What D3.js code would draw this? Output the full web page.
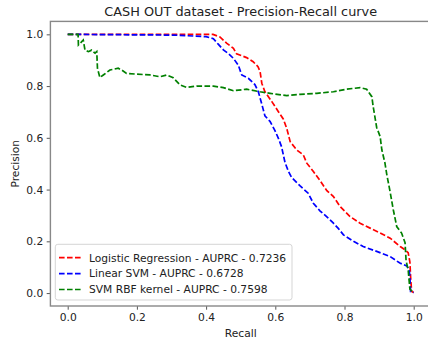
<!DOCTYPE html>
<html>
<head>
<meta charset="utf-8">
<script src="https://cdn.jsdelivr.net/npm/d3@7"></script>
<style>
  html, body { margin: 0; padding: 0; background: #fff; }
  svg text { font-family: "DejaVu Sans", sans-serif; fill: #222; }
</style>
</head>
<body>
<svg id="chart" width="428" height="341"></svg>
<script>
// Precision-recall curves for three classifiers on the CASH OUT data
const titleText = "CASH OUT dataset - Precision-Recall curve";
const xLabel = "Recall";
const yLabel = "Precision";
const tickValues = [0, 0.2, 0.4, 0.6, 0.8, 1.0];

const seriesNames = [
  "Logistic Regression - AUPRC - 0.7236",
  "Linear SVM - AUPRC - 0.6728",
  "SVM RBF kernel - AUPRC - 0.7598"
];

const lrRecall = [0, 0.32, 0.42, 0.44, 0.46, 0.479, 0.488, 0.517, 0.536, 0.55, 0.556, 0.561, 0.570, 0.590, 0.609, 0.623, 0.633, 0.643, 0.662, 0.681, 0.691, 0.71, 0.729, 0.749, 0.768, 0.787, 0.816, 0.845, 0.874, 0.903, 0.932, 0.961, 0.975, 0.984, 0.989, 0.991, 0.994, 1.0];
const lrPrecision = [1.0, 1.0, 1.0, 0.99, 0.965, 0.946, 0.925, 0.91, 0.894, 0.875, 0.856, 0.811, 0.778, 0.74, 0.701, 0.673, 0.637, 0.585, 0.553, 0.534, 0.502, 0.47, 0.435, 0.396, 0.373, 0.335, 0.296, 0.27, 0.251, 0.232, 0.212, 0.18, 0.167, 0.156, 0.12, 0.064, 0.006, 0.002];

const svmRecall = [0, 0.31, 0.40, 0.421, 0.435, 0.45, 0.465, 0.479, 0.493, 0.503, 0.522, 0.541, 0.551, 0.561, 0.570, 0.585, 0.599, 0.609, 0.618, 0.628, 0.638, 0.647, 0.671, 0.695, 0.71, 0.729, 0.753, 0.768, 0.782, 0.797, 0.826, 0.854, 0.893, 0.932, 0.96, 0.98, 0.987, 0.989, 0.991, 1.0];
const svmPrecision = [1.0, 0.997, 0.991, 0.983, 0.962, 0.94, 0.925, 0.907, 0.881, 0.843, 0.83, 0.806, 0.778, 0.73, 0.685, 0.663, 0.628, 0.598, 0.566, 0.505, 0.47, 0.447, 0.415, 0.386, 0.347, 0.318, 0.29, 0.27, 0.25, 0.225, 0.2, 0.18, 0.161, 0.141, 0.116, 0.105, 0.09, 0.064, 0.006, 0.002];

const rbfRecall = [0, 0.03, 0.031, 0.04, 0.045, 0.05, 0.06, 0.069, 0.079, 0.084, 0.086, 0.093, 0.103, 0.122, 0.146, 0.156, 0.17, 0.2, 0.238, 0.267, 0.286, 0.305, 0.325, 0.344, 0.373, 0.421, 0.45, 0.479, 0.517, 0.556, 0.585, 0.633, 0.671, 0.72, 0.768, 0.806, 0.845, 0.864, 0.879, 0.883, 0.893, 0.903, 0.908, 0.917, 0.922, 0.932, 0.941, 0.951, 0.965, 0.975, 0.978, 0.984, 0.989, 1.0];
const rbfPrecision = [1.0, 1.0, 0.959, 0.971, 0.978, 0.939, 0.933, 0.939, 0.927, 0.933, 0.869, 0.833, 0.843, 0.862, 0.869, 0.862, 0.849, 0.846, 0.843, 0.836, 0.843, 0.832, 0.804, 0.795, 0.80, 0.80, 0.794, 0.782, 0.788, 0.778, 0.772, 0.763, 0.768, 0.772, 0.778, 0.788, 0.794, 0.788, 0.759, 0.72, 0.64, 0.605, 0.553, 0.502, 0.46, 0.39, 0.322, 0.257, 0.232, 0.195, 0.125, 0.09, 0.015, 0.002];

const colors = ["#ff0000", "#0000ff", "#008000"];

const series = [
  { name: seriesNames[0], color: colors[0], values: lrRecall.map((r, i) => [r, lrPrecision[i]]) },
  { name: seriesNames[1], color: colors[1], values: svmRecall.map((r, i) => [r, svmPrecision[i]]) },
  { name: seriesNames[2], color: colors[2], values: rbfRecall.map((r, i) => [r, rbfPrecision[i]]) }
];

const svg = d3.select("#chart");
const plot = { left: 50.4, right: 431, top: 21.4, bottom: 306 };
const tickFont = 10.7;

const x = d3.scaleLinear().domain([-0.05, 1.05]).range([plot.left, plot.right]);
const y = d3.scaleLinear().domain([-0.05, 1.05]).range([plot.bottom, plot.top]);

svg.append("defs").append("clipPath").attr("id", "plotClip")
  .append("rect")
  .attr("x", plot.left).attr("y", plot.top)
  .attr("width", plot.right - plot.left).attr("height", plot.bottom - plot.top);

// curves
const line = d3.line().x(d => x(d[0])).y(d => y(d[1]));
svg.append("g").attr("clip-path", "url(#plotClip)")
  .selectAll("path").data(series).join("path")
  .attr("d", d => line(d.values))
  .attr("fill", "none")
  .attr("stroke", d => d.color)
  .attr("stroke-width", 1.7)
  .attr("stroke-dasharray", "5.6,2.4");

// axes
const xAxis = svg.append("g")
  .attr("transform", `translate(0,${plot.bottom})`)
  .call(d3.axisBottom(x).tickValues(tickValues).tickFormat(d3.format(".1f")).tickSize(3.7).tickPadding(3.5));
const yAxis = svg.append("g")
  .attr("transform", `translate(${plot.left},0)`)
  .call(d3.axisLeft(y).tickValues(tickValues).tickFormat(d3.format(".1f")).tickSize(3.7).tickPadding(3.5));
[xAxis, yAxis].forEach(g => {
  g.select(".domain").remove();
  g.selectAll(".tick line").attr("stroke", "#444").attr("stroke-width", 0.9);
  g.selectAll(".tick text").attr("font-size", tickFont).attr("font-family", "DejaVu Sans").attr("fill", "#222");
});

// spines
svg.append("rect")
  .attr("x", plot.left).attr("y", plot.top)
  .attr("width", plot.right - plot.left).attr("height", plot.bottom - plot.top)
  .attr("fill", "none").attr("stroke", "#888").attr("stroke-width", 1.4);

// title and labels
svg.append("text")
  .attr("x", (plot.left + plot.right) / 2).attr("y", 15.5)
  .attr("text-anchor", "middle").attr("font-size", 12.85)
  .text(titleText);
svg.append("text")
  .attr("x", (plot.left + plot.right) / 2).attr("y", 336.5)
  .attr("text-anchor", "middle").attr("font-size", tickFont)
  .text(xLabel);
svg.append("text")
  .attr("transform", `translate(18.5,${(plot.top + plot.bottom) / 2}) rotate(-90)`)
  .attr("text-anchor", "middle").attr("font-size", tickFont)
  .text(yLabel);

// legend
const legend = svg.append("g");
legend.append("rect")
  .attr("x", 55.3).attr("y", 244.3).attr("width", 236.7).attr("height", 55.7)
  .attr("rx", 2.5).attr("fill", "#fff").attr("fill-opacity", 0.8)
  .attr("stroke", "#d0d0d0").attr("stroke-width", 0.9);
const rows = legend.selectAll("g.row").data(series).join("g")
  .attr("class", "row")
  .attr("transform", (d, i) => `translate(0,${257.7 + i * 15.9})`);
rows.append("line")
  .attr("x1", 59).attr("x2", 81).attr("y1", 0).attr("y2", 0)
  .attr("stroke", d => d.color).attr("stroke-width", 1.7)
  .attr("stroke-dasharray", "5.6,2.4");
rows.append("text")
  .attr("x", 89).attr("y", 0).attr("dy", "0.36em")
  .attr("font-size", tickFont)
  .text(d => d.name);
</script>
</body>
</html>
